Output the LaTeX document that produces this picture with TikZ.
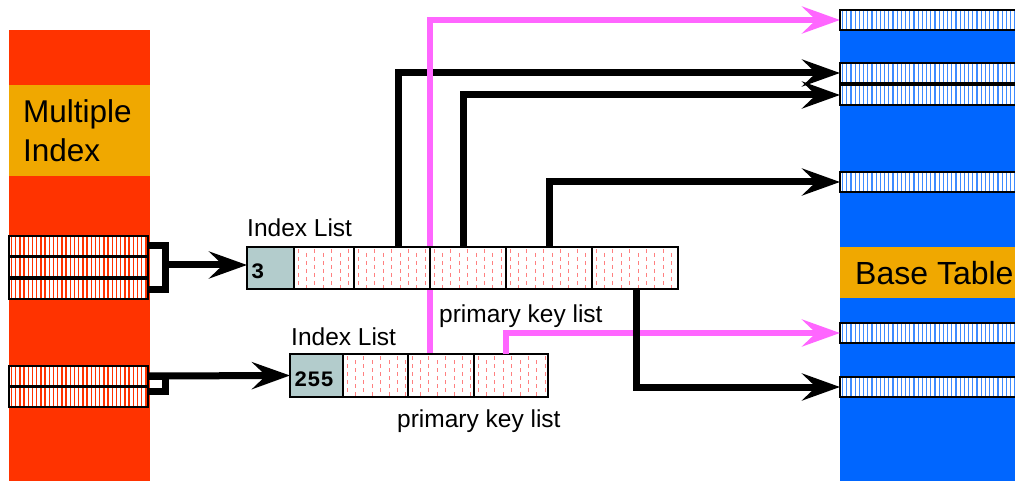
\documentclass[tikz,border=0pt]{standalone}
\usepackage{fontspec}
\setmainfont{Liberation Sans}
\setmonofont{Liberation Mono}
\usetikzlibrary{arrows.meta}
\definecolor{mired}{HTML}{FF3300}
\definecolor{miorange}{HTML}{F0A800}
\definecolor{miblue}{HTML}{0066FF}
\definecolor{mistripe}{HTML}{3D8BFF}
\definecolor{migray}{HTML}{B3CCCC}
\definecolor{mipink}{HTML}{FF66FF}
\definecolor{midash}{HTML}{FF8080}
\pgfdeclarelayer{back}
\pgfdeclarelayer{mid}
\pgfsetlayers{back,mid,main}
\tikzset{
  redrow/.style={draw=black, line width=1.3pt, fill=white, minimum width=139pt, minimum height=20pt,
    inner sep=0pt, outer sep=0pt, anchor=north west,
    path picture={\foreach \i in {0,...,34}{\draw[mired,line width=1.3pt]
      ([xshift=\i*4.2pt+2.5pt]path picture bounding box.south west) --
      ([xshift=\i*4.2pt+2.5pt]path picture bounding box.north west);}}},
  bluerow/.style={draw=black, line width=1.3pt, fill=white, minimum width=182pt, minimum height=20pt,
    inner sep=0pt, outer sep=0pt, anchor=north west,
    path picture={\foreach \i in {0,...,44}{\draw[mistripe,line width=1.2pt]
      ([xshift=\i*4.2pt+2.5pt]path picture bounding box.south west) --
      ([xshift=\i*4.2pt+2.5pt]path picture bounding box.north west);}}},
  pkcell/.style={draw=black, line width=1.3pt, fill=white, inner sep=0pt, outer sep=0pt, anchor=north west,
    path picture={\foreach \i in {0,...,11}{
      \pgfmathsetmacro{\ph}{mod(\i,2)*4}
      \draw[midash,line width=0.8pt,dash pattern=on 4pt off 4pt,dash phase=\ph pt]
      ([xshift=\i*8.4pt+4pt,yshift=-2pt]path picture bounding box.north west) --
      ([xshift=\i*8.4pt+4pt]path picture bounding box.south west);}}},
  graycell/.style={draw=black, line width=1.3pt, fill=migray, inner sep=0pt, outer sep=0pt, anchor=north west},
  lbl/.style={anchor=base west, inner sep=0pt, font=\fontsize{24.5}{29}\selectfont},
  big/.style={anchor=base west, inner sep=0pt, font=\fontsize{31.5}{37}\selectfont},
  num/.style={anchor=base west, inner sep=0pt, font=\fontsize{22}{26}\selectfont\ttfamily\bfseries},
  tip/.style={-{Stealth[length=38pt,width=27pt,inset=14pt]}},
  blk/.style={tip, draw=black, line width=7pt},
  pnk/.style={tip, draw=mipink, line width=6pt},
  brk/.style={draw=black, line width=7pt},
}
\begin{document}
\begin{tikzpicture}[x=1pt,y=-1pt]
\clip (0,0) rectangle (1015,481);
\begin{pgfonlayer}{back}
\fill[white] (0,0) rectangle (1015,481);
\fill[mired] (9,30) rectangle (150,481);
\fill[miorange] (9,85) rectangle (150,176);
\fill[miblue] (840,10) rectangle (1015,481);
\fill[miorange] (840,247) rectangle (1015,298);
\end{pgfonlayer}
% labels on columns
\node[big] (mi1) at (23,123) {Multiple};
\node[big] (mi2) at (23,162) {Index};
\node[big, font=\fontsize{32}{38}\selectfont] (bt) at (855,284) {Base Table};
% left rows
\node[redrow] (a1) at (9,236) {};
\node[redrow] (a2) at (9,257) {};
\node[redrow] (a3) at (9,279) {};
\node[redrow] (b1) at (9,366) {};
\node[redrow] (b2) at (9,387) {};
% right rows
\node[bluerow] (r1) at (840,10) {};
\node[bluerow] (r2) at (840,63) {};
\node[bluerow] (r3) at (840,85) {};
\node[bluerow] (r4) at (840,172) {};
\node[bluerow] (r5) at (840,323) {};
\node[bluerow] (r6) at (840,377) {};
% top index list
\node[graycell, minimum width=47pt, minimum height=42pt] (t1) at (247,247) {};
\node[pkcell, minimum width=60pt, minimum height=42pt] (t2) at (294,247) {};
\node[pkcell, minimum width=76pt, minimum height=42pt] (t3) at (354,247) {};
\node[pkcell, minimum width=76pt, minimum height=42pt] (t4) at (430,247) {};
\node[pkcell, minimum width=86pt, minimum height=42pt] (t5) at (506,247) {};
\node[pkcell, minimum width=86pt, minimum height=42pt] (t6) at (592,247) {};
\node[num] (n3) at (251,279) {3};
% lower index list
\node[graycell, minimum width=53pt, minimum height=43pt] (l1) at (290,354) {};
\node[pkcell, minimum width=65pt, minimum height=43pt] (l2) at (343,354) {};
\node[pkcell, minimum width=66pt, minimum height=43pt] (l3) at (408,354) {};
\node[pkcell, minimum width=74pt, minimum height=43pt] (l4) at (474,354) {};
\node[num] (n255) at (294,386) {255};
% texts
\node[lbl] (il1) at (247,237) {Index List};
\node[lbl] (il2) at (291,345) {Index List};
\node[lbl] (pk1) at (439,322) {primary key list};
\node[lbl] (pk2) at (397,427) {primary key list};
% connectors behind the top list
\begin{pgfonlayer}{mid}
\draw[blk] ([xshift=44pt]t3.north west) |- (r2.west);
\draw[pnk] ([xshift=22pt]l3.north west) |- (r1.west);
\end{pgfonlayer}
\draw[blk] ([xshift=33pt]t4.north west) |- (r3.west);
\draw[blk] ([xshift=43pt]t5.north west) |- (r4.west);
\draw[pnk] ([xshift=32pt]l4.north west) |- (r5.west);
\draw[blk] ([xshift=44pt]t6.south west) |- (r6.west);
% brackets on the left
\coordinate (k1) at (165,265);
\draw[brk] (a1.east) -| (k1) |- (a3.east);
\draw[blk] (k1) -- (k1 -| t1.west);
\coordinate (k2) at ([yshift=6pt]b2.east);
\draw[brk] (b1.east) -| ([xshift=17pt]b1.east) |- (k2);
\draw[blk] (b1.east) -- (l1.west);
\end{tikzpicture}
\end{document}
